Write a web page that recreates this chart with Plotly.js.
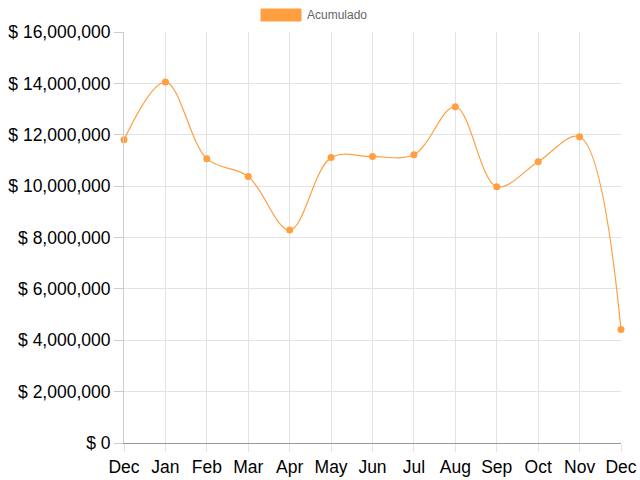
<!DOCTYPE html>
<html>
<head>
<meta charset="utf-8">
<script src="https://cdn.plot.ly/plotly-3.0.1.min.js"></script>
<style>html,body{margin:0;padding:0;background:#fff;}#chart{width:640px;height:480px;}</style>
</head>
<body>
<div id="chart"></div>
<script>
var monthLabels = ["Dec","Jan","Feb","Mar","Apr","May","Jun","Jul","Aug","Sep","Oct","Nov","Dec"];
var acumulado = [11810000,14050000,11070000,10370000,8290000,11110000,11150000,11220000,13090000,9980000,10950000,11920000,4420000];
var yTickVals = [0,2000000,4000000,6000000,8000000,10000000,12000000,14000000,16000000];
var yTickText = yTickVals.map(function(v){return "$ " + v.toLocaleString("en-US");});
var seriesName = "Acumulado";
var xIdx = monthLabels.map(function(_, i){return i;});

var trace = {
  x: xIdx, y: acumulado, name: seriesName, type: "scatter", mode: "lines+markers",
  line: {color: "#FF9F40", width: 1.2, shape: "spline", smoothing: 1},
  marker: {color: "#FF9F40", size: 7},
  cliponaxis: false,
  showlegend: false, hoverinfo: "skip"
};

var font = "Liberation Sans, Arial, sans-serif";
var layout = {
  width: 640, height: 480,
  margin: {l: 124, r: 19, t: 32, b: 37},
  paper_bgcolor: "#fff", plot_bgcolor: "#fff",
  font: {family: font, color: "#000"},
  xaxis: {
    range: [0, 12], tickmode: "array", tickvals: xIdx, ticktext: monthLabels,
    showgrid: true, gridcolor: "#e3e3e3", gridwidth: 1,
    zeroline: false, showline: true, linecolor: "#999", linewidth: 1,
    ticks: "outside", ticklen: 8, tickcolor: "#e3e3e3",
    tickfont: {size: 17.5, color: "#000", family: font}, fixedrange: true
  },
  yaxis: {
    range: [0, 16000000], tickmode: "array", tickvals: yTickVals, ticktext: yTickText,
    showgrid: true, gridcolor: "#e3e3e3", gridwidth: 1,
    zeroline: false, showline: true, linecolor: "#ccc", linewidth: 1,
    ticks: "outside", ticklen: 9, tickcolor: "#ccc",
    tickfont: {size: 17.5, color: "#000", family: font}, fixedrange: true
  },
  shapes: [
    {type: "rect", xref: "paper", yref: "paper",
     x0: (261-124)/497, x1: (301-124)/497, y0: (480-21-37)/411, y1: (480-9-37)/411,
     fillcolor: "#FF9F40", line: {color: "#FF9F40", width: 1}}
  ],
  annotations: [
    {text: seriesName, xref: "paper", yref: "paper", x: (305-124)/497, y: (480-15-37)/411,
     xanchor: "left", yanchor: "middle", showarrow: false,
     font: {size: 12, color: "#666", family: font}}
  ]
};

Plotly.newPlot("chart", [trace], layout, {displayModeBar: false, staticPlot: true});
</script>
</body>
</html>
